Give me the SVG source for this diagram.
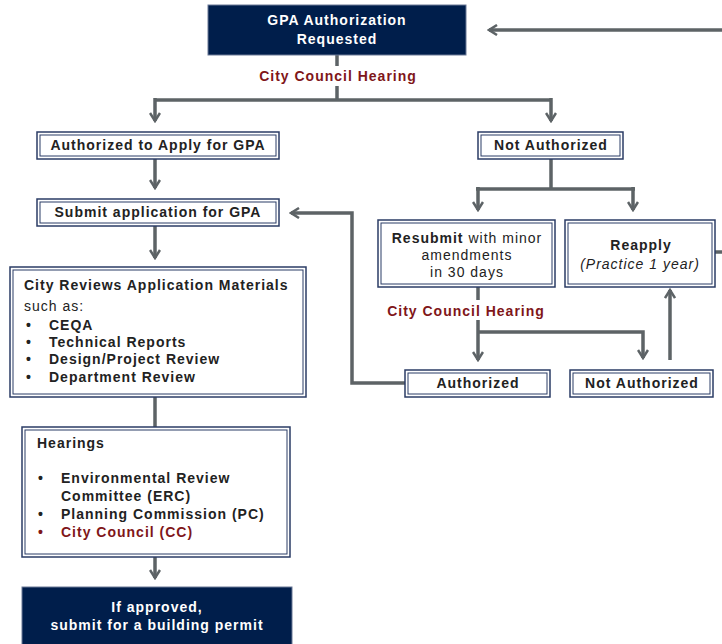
<svg xmlns="http://www.w3.org/2000/svg" width="722" height="644" viewBox="0 0 722 644">
<style>
text{font-family:"Liberation Sans",Arial,sans-serif;font-size:14px;fill:#222;letter-spacing:1px}
.b{font-weight:bold}
.w{fill:#fff;font-weight:bold}
.red{fill:#7f1619;font-weight:bold}
.c{text-anchor:middle}
.dark{fill:#001e4b;stroke:#6a7896;stroke-width:1}
.o{fill:#fff;stroke:#2b3c66;stroke-width:1.5}
.i{fill:none;stroke:#2b3c66;stroke-width:1}
.ln{fill:none;stroke:#5d6366;stroke-width:3.5}
</style>
<defs>
<marker id="arr" viewBox="0 0 12 12" refX="10" refY="6" markerWidth="12" markerHeight="12" markerUnits="userSpaceOnUse" orient="auto">
<path d="M2,1 L10,6 L2,11" fill="none" stroke="#5d6366" stroke-width="2.5"/>
</marker>
</defs>
<g id="connectors">
<path class="ln" d="M722,30 H489" marker-end="url(#arr)"/>
<path class="ln" d="M337,55 V66"/>
<path class="ln" d="M337,86 V100"/>
<path class="ln" d="M155,100 H551"/>
<path class="ln" d="M155,98 V121" marker-end="url(#arr)"/>
<path class="ln" d="M551,98 V121" marker-end="url(#arr)"/>
<path class="ln" d="M155,159 V188" marker-end="url(#arr)"/>
<path class="ln" d="M155,226 V258" marker-end="url(#arr)"/>
<path class="ln" d="M405,383 H352 V213 H291" marker-end="url(#arr)"/>
<path class="ln" d="M155,397 V427"/>
<path class="ln" d="M155,557 V578" marker-end="url(#arr)"/>
<path class="ln" d="M551,159 V189"/>
<path class="ln" d="M476,189 H635"/>
<path class="ln" d="M478,187 V210" marker-end="url(#arr)"/>
<path class="ln" d="M633,187 V210" marker-end="url(#arr)"/>
<path class="ln" d="M478,287 V300"/>
<path class="ln" d="M478,320 V360" marker-end="url(#arr)"/>
<path class="ln" d="M478,332 H643 V358" marker-end="url(#arr)"/>
<path class="ln" d="M670,360 V290" marker-end="url(#arr)"/>
<path class="ln" d="M715,252 H722"/>
</g>
<g id="gpa-requested">
<rect class="dark" x="208" y="5" width="258" height="50"/>
<text class="w c" x="337" y="25">GPA Authorization</text>
<text class="w c" x="337" y="44">Requested</text>
</g>
<g id="hearing-label-1"><text class="red c" x="338" y="81">City Council Hearing</text></g>
<g id="authorized-apply">
<rect class="o" x="37" y="132" width="242" height="27"/>
<rect class="i" x="40" y="135" width="236" height="21"/>
<text class="b c" x="158" y="150">Authorized to Apply for GPA</text>
</g>
<g id="not-authorized-1">
<rect class="o" x="478" y="132" width="145" height="27"/>
<rect class="i" x="481" y="135" width="139" height="21"/>
<text class="b c" x="551" y="150">Not Authorized</text>
</g>
<g id="submit-application">
<rect class="o" x="37" y="199" width="242" height="27"/>
<rect class="i" x="40" y="202" width="236" height="21"/>
<text class="b c" x="158" y="217">Submit application for GPA</text>
</g>
<g id="resubmit">
<rect class="o" x="378" y="220" width="177" height="67"/>
<rect class="i" x="381" y="223" width="171" height="61"/>
<text class="c" x="467" y="243"><tspan class="b">Resubmit</tspan> with minor</text>
<text class="c" x="467" y="260">amendments</text>
<text class="c" x="467" y="277">in 30 days</text>
</g>
<g id="reapply">
<rect class="o" x="565" y="220" width="150" height="67"/>
<rect class="i" x="568" y="223" width="144" height="61"/>
<text class="b c" x="641" y="250">Reapply</text>
<text class="c" x="640" y="269" font-style="italic">(Practice 1 year)</text>
</g>
<g id="city-reviews">
<rect class="o" x="10" y="267" width="296" height="130"/>
<rect class="i" x="13" y="270" width="290" height="124"/>
<text class="b" x="24" y="290">City Reviews Application Materials</text>
<text x="24" y="311" fill="#555">such as:</text>
<text class="b" x="26" y="330">•</text><text class="b" x="49" y="330">CEQA</text>
<text class="b" x="26" y="347">•</text><text class="b" x="49" y="347">Technical Reports</text>
<text class="b" x="26" y="364">•</text><text class="b" x="49" y="364">Design/Project Review</text>
<text class="b" x="26" y="382">•</text><text class="b" x="49" y="382">Department Review</text>
</g>
<g id="hearing-label-2"><text class="red c" x="466" y="316">City Council Hearing</text></g>
<g id="authorized-2">
<rect class="o" x="405" y="370" width="145" height="27"/>
<rect class="i" x="408" y="373" width="139" height="21"/>
<text class="b c" x="478" y="388">Authorized</text>
</g>
<g id="not-authorized-2">
<rect class="o" x="570" y="370" width="143" height="27"/>
<rect class="i" x="573" y="373" width="137" height="21"/>
<text class="b c" x="642" y="388">Not Authorized</text>
</g>
<g id="hearings">
<rect class="o" x="22" y="427" width="268" height="130"/>
<rect class="i" x="25" y="430" width="262" height="124"/>
<text class="b" x="37" y="448">Hearings</text>
<text class="b" x="38" y="483">•</text><text class="b" x="61" y="483">Environmental Review</text>
<text class="b" x="61" y="501">Committee (ERC)</text>
<text class="b" x="38" y="519">•</text><text class="b" x="61" y="519">Planning Commission (PC)</text>
<text class="red" x="38" y="537">•</text><text class="red" x="61" y="537">City Council (CC)</text>
</g>
<g id="building-permit">
<rect class="dark" x="22" y="587" width="270" height="62"/>
<text class="w c" x="157" y="612">If approved,</text>
<text class="w c" x="157" y="630">submit for a building permit</text>
</g>
</svg>
